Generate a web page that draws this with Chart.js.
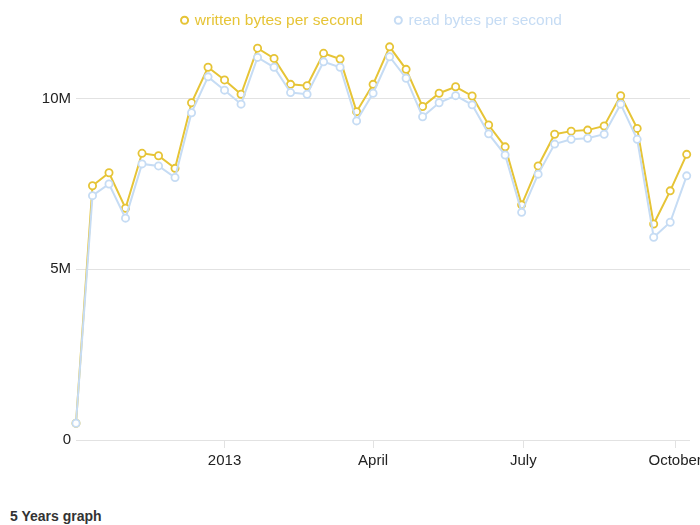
<!DOCTYPE html>
<html><head><meta charset="utf-8">
<script src="https://cdn.jsdelivr.net/npm/chart.js@4"></script>
<style>
html,body{margin:0;padding:0;overflow:hidden;background:#fff;width:700px;height:525px;}
#wrap{position:absolute;left:0;top:0;width:740px;height:490px;}
#caption{position:absolute;left:10px;top:508px;line-height:14px;font:bold 14px "Liberation Sans",Arial,sans-serif;color:#333;}
</style></head><body>
<div id="wrap"><canvas id="c"></canvas></div>
<div id="caption">5 Years graph</div>
<script>
// sample dates (every 10 days)
const dates = ['2012-10-03','2012-10-13','2012-10-23','2012-11-02','2012-11-12','2012-11-22','2012-12-02','2012-12-12','2012-12-22',
  '2013-01-01','2013-01-11','2013-01-21','2013-01-31','2013-02-10','2013-02-20','2013-03-02','2013-03-12','2013-03-22',
  '2013-04-01','2013-04-11','2013-04-21','2013-05-01','2013-05-11','2013-05-21','2013-05-31','2013-06-10','2013-06-20',
  '2013-06-30','2013-07-10','2013-07-20','2013-07-30','2013-08-09','2013-08-19','2013-08-29','2013-09-08','2013-09-18',
  '2013-09-28','2013-10-08'];
// values in millions of bytes per second
const written = [0.49,7.45,7.83,6.79,8.40,8.33,7.96,9.88,10.92,10.55,10.13,11.48,11.18,10.42,10.38,11.33,11.16,9.62,10.42,
  11.52,10.86,9.77,10.16,10.35,10.08,9.23,8.59,6.89,8.03,8.96,9.05,9.08,9.20,10.09,9.13,6.33,7.30,8.37];
const read = [0.49,7.16,7.50,6.50,8.09,8.03,7.69,9.59,10.64,10.25,9.84,11.21,10.92,10.18,10.13,11.08,10.92,9.35,10.16,
  11.23,10.60,9.47,9.88,10.09,9.82,8.97,8.35,6.67,7.79,8.67,8.81,8.84,8.96,9.84,8.81,5.94,6.38,7.74];
const seriesNames = ['written bytes per second','read bytes per second'];
const yTicks = [0,5,10];
const yTickLabels = ['0','5M','10M'];
const xTickDates = ['2013-01-01','2013-04-01','2013-07-01','2013-10-01'];
const xTickLabels = ['2013','April','July','October'];

const origin = Date.UTC(2013,0,1);
const dayOf = s => Math.round((Date.parse(s + 'T00:00:00Z') - origin) / 86400000);
const xTickDays = xTickDates.map(dayOf);
const toPts = arr => arr.map((v,i) => ({x: dayOf(dates[i]), y: v}));

const colWritten = '#e6c436';
const colRead = '#c6dcf4';
const FONT = '"Liberation Sans", Arial, Helvetica, sans-serif';

const legendShift = {
  id: 'legendShift',
  afterLayout(chart) {
    const lg = chart.legend;
    const dx = 2, dy = -20.5;
    lg.left += dx; lg.right += dx; lg.top += dy;
  }
};

new Chart(document.getElementById('c'), {
  type: 'line',
  data: {
    datasets: [
      {label: seriesNames[0], data: toPts(written), borderColor: colWritten, backgroundColor: '#fff',
       pointBackgroundColor: '#fff', pointBorderColor: colWritten, borderWidth: 2, pointRadius: 3.6,
       pointBorderWidth: 1.8, tension: 0, clip: false, order: 1},
      {label: seriesNames[1], data: toPts(read), borderColor: colRead, backgroundColor: '#fff',
       pointBackgroundColor: '#fff', pointBorderColor: colRead, borderWidth: 2, pointRadius: 3.6,
       pointBorderWidth: 1.8, tension: 0, clip: false, order: 0}
    ]
  },
  plugins: [legendShift],
  options: {
    responsive: true, maintainAspectRatio: false, animation: false,
    layout: {padding: 0},
    plugins: {
      tooltip: {enabled: false},
      legend: {
        position: 'top', maxHeight: 40,
        labels: {
          usePointStyle: true, boxWidth: 5, boxHeight: 5, padding: 33,
          font: {family: FONT, size: 15.5},
          generateLabels: (chart) => chart.data.datasets.map((ds, i) => ({
            text: ds.label, fillStyle: '#fff', strokeStyle: ds.borderColor, lineWidth: 2,
            pointStyle: 'circle', fontColor: ds.borderColor, hidden: false, datasetIndex: i
          }))
        }
      }
    },
    scales: {
      x: {
        type: 'linear', min: -90, max: 282,
        afterBuildTicks: (s) => { s.ticks = xTickDays.map(v => ({value: v})); },
        afterFit: (s) => { s.height = 50; s.paddingRight = 50; s.paddingLeft = 0; },
        grid: {display: true, drawOnChartArea: false, drawTicks: true, tickLength: 8, color: '#e2e2e2'},
        border: {display: false},
        ticks: {maxRotation: 0, autoSkip: false, padding: 4, color: '#222', font: {family: FONT, size: 15},
          callback: (v) => xTickLabels[xTickDays.indexOf(v)]}
      },
      y: {
        min: 0, max: 11.72,
        afterBuildTicks: (s) => { s.ticks = yTicks.map(v => ({value: v})); },
        afterFit: (s) => { s.width = 76; },
        grid: {color: '#e2e2e2', drawTicks: false},
        border: {display: false},
        ticks: {padding: 5, color: '#222', font: {family: FONT, size: 15},
          callback: (v) => yTickLabels[yTicks.indexOf(v)]}
      }
    }
  }
});
</script>
</body></html>
